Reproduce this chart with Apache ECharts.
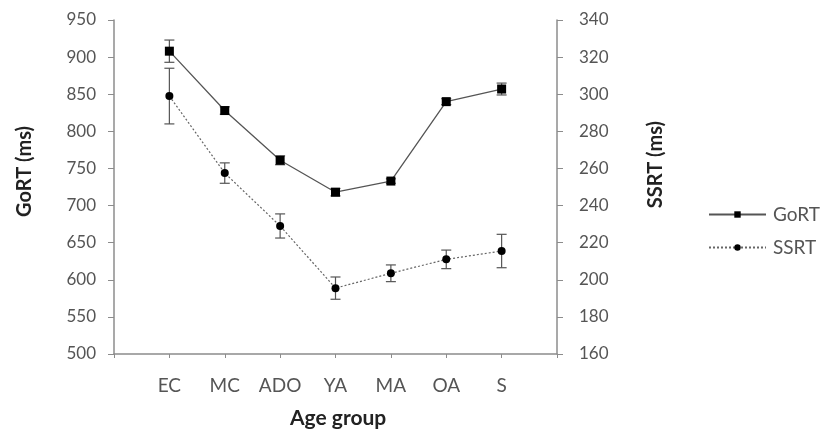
<!DOCTYPE html>
<html>
<head>
<meta charset="utf-8">
<script src="https://cdn.jsdelivr.net/npm/echarts@6/dist/echarts.min.js"></script>
<style>
  html, body { margin: 0; padding: 0; background: #fff; }
  #chart { width: 821px; height: 429px; }
</style>
</head>
<body>
<div id="chart"></div>
<script>
// 年龄组
var categories = ["EC", "MC", "ADO", "YA", "MA", "OA", "S"];
var gortMean = [908, 828, 761, 718, 733, 840, 857];
var gortErr = [15, 5, 6, 5, 3, 4, 8];
var ssrtMean = [299, 257.5, 229, 195.5, 203.5, 211, 215.5];
var ssrtErr = [15, 5.5, 6.5, 6, 4.5, 5, 9];

var leftTicks = [500, 950, 50];
var rightTicks = [160, 340, 20];

var textColor = "#555";
var axisColor = "#8c8c8c";
var fontName = "Lato, 'Liberation Sans', sans-serif";

function toPoints(arr) {
  var out = [];
  for (var i = 0; i < arr.length; i++) out.push([i + 1, arr[i]]);
  return out;
}

function errData(mean, err) {
  var out = [];
  for (var i = 0; i < mean.length; i++) {
    out.push([i + 1, mean[i] - err[i], mean[i] + err[i]]);
  }
  return out;
}

// 误差线
function renderErr(params, api) {
  var lo = api.coord([api.value(0), api.value(1)]);
  var hi = api.coord([api.value(0), api.value(2)]);
  var w = 5;
  var style = { stroke: "#555", lineWidth: 1.2 };
  return {
    type: "group",
    children: [
      { type: "line", shape: { x1: lo[0], y1: lo[1], x2: hi[0], y2: hi[1] }, style: style },
      { type: "line", shape: { x1: lo[0] - w, y1: lo[1], x2: lo[0] + w, y2: lo[1] }, style: style },
      { type: "line", shape: { x1: hi[0] - w, y1: hi[1], x2: hi[0] + w, y2: hi[1] }, style: style }
    ]
  };
}

var myChart = echarts.init(document.getElementById("chart"));
var option = {
  animation: false,
  backgroundColor: "#fff",
  grid: { left: 114, right: 264, top: 20, bottom: 75 },
  legend: {
    orient: "vertical",
    left: 703,
    top: 200,
    itemWidth: 57,
    itemHeight: 8,
    itemGap: 14,
    textStyle: { color: textColor, fontSize: 19, fontFamily: fontName, padding: [0, 0, 0, 2] },
    data: ["GoRT", "SSRT"]
  },
  xAxis: {
    type: "value",
    min: 0,
    max: 8,
    interval: 1,
    axisLine: { lineStyle: { color: axisColor, width: 1.5 } },
    axisTick: { inside: false, length: 4, lineStyle: { color: axisColor } },
    splitLine: { show: false },
    axisLabel: {
      color: textColor,
      fontSize: 19,
      fontFamily: fontName,
      margin: 22,
      formatter: function (v) {
        return categories[v - 1] || "";
      }
    }
  },
  yAxis: [
    {
      type: "value",
      min: leftTicks[0],
      max: leftTicks[1],
      interval: leftTicks[2],
      axisLine: { show: true, lineStyle: { color: axisColor, width: 1.5 } },
      axisTick: { show: true, inside: false, length: 6, lineStyle: { color: axisColor } },
      splitLine: { show: false },
      axisLabel: { color: textColor, fontSize: 17, fontFamily: fontName, margin: 18 }
    },
    {
      type: "value",
      position: "right",
      min: rightTicks[0],
      max: rightTicks[1],
      interval: rightTicks[2],
      axisLine: { show: true, lineStyle: { color: axisColor, width: 1.5 } },
      axisTick: { show: true, inside: false, length: 6, lineStyle: { color: axisColor } },
      splitLine: { show: false },
      axisLabel: { color: textColor, fontSize: 17, fontFamily: fontName, margin: 22 }
    }
  ],
  graphic: [
    {
      type: "text", left: 15, top: 126, rotation: Math.PI / 2,
      style: { text: "GoRT (ms)", fill: "#222", font: "bold 20px " + fontName }
    },
    {
      type: "text", left: 646, top: 121, rotation: Math.PI / 2,
      style: { text: "SSRT (ms)", fill: "#222", font: "bold 20px " + fontName }
    },
    {
      type: "text", left: 290, top: 408,
      style: { text: "Age group", fill: "#222", font: "bold 21px " + fontName }
    }
  ],
  series: [
    {
      name: "GoRTerr",
      type: "custom",
      yAxisIndex: 0,
      renderItem: renderErr,
      data: errData(gortMean, gortErr),
      z: 1
    },
    {
      name: "SSRTerr",
      type: "custom",
      yAxisIndex: 1,
      renderItem: renderErr,
      data: errData(ssrtMean, ssrtErr),
      z: 1
    },
    {
      name: "GoRT",
      type: "line",
      yAxisIndex: 0,
      data: toPoints(gortMean),
      symbol: "rect",
      symbolSize: 9,
      itemStyle: { color: "#000" },
      lineStyle: { color: "#555", width: 1.3, type: "solid" },
      z: 3
    },
    {
      name: "SSRT",
      type: "line",
      yAxisIndex: 1,
      data: toPoints(ssrtMean),
      symbol: "circle",
      symbolSize: 8,
      itemStyle: { color: "#000" },
      lineStyle: { color: "#666", width: 1.2, type: [2, 2] },
      z: 3
    }
  ]
};
myChart.setOption(option, true);
</script>
</body>
</html>
